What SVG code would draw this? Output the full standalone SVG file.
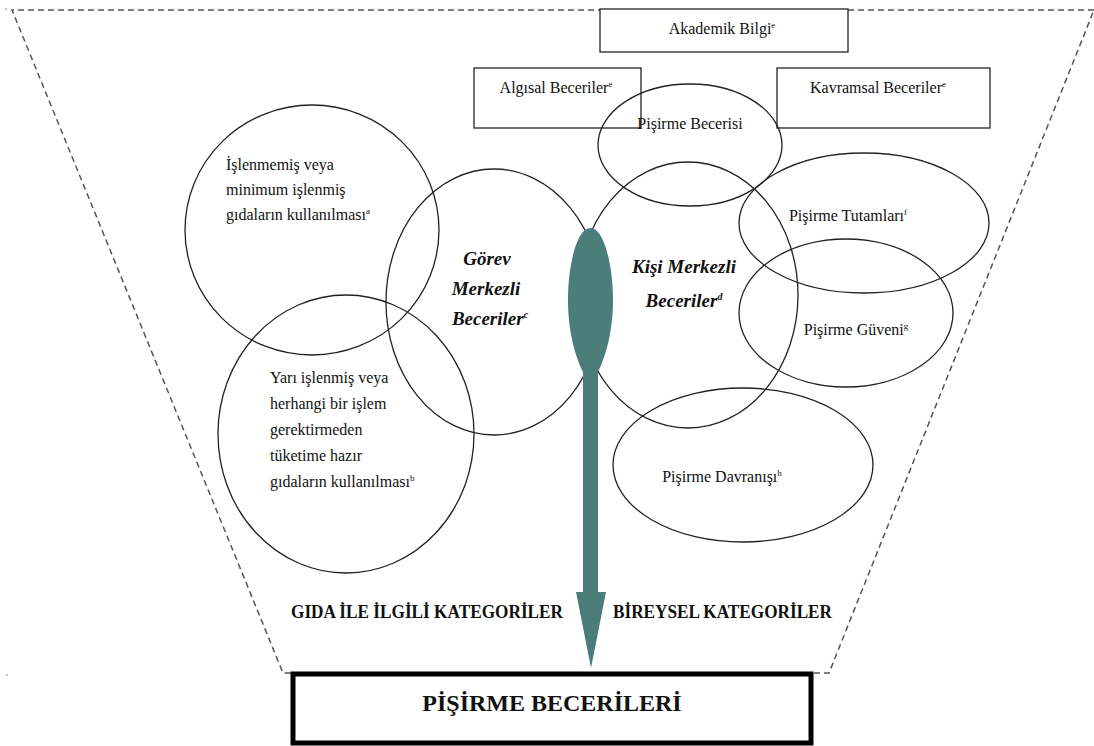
<svg xmlns="http://www.w3.org/2000/svg" width="1094" height="746" viewBox="0 0 1094 746">
<defs>
<style>
.dash{fill:none;stroke:#555;stroke-width:1.5;stroke-dasharray:6 4}
.ell{fill:none;stroke:#222;stroke-width:1.3}
.box{fill:#fff;stroke:#222;stroke-width:1.3}
text{font-family:'Liberation Serif','Times New Roman',serif;fill:#111}
.t{font-size:16px}
.s{font-size:9px}
.bi{font-size:19px;font-weight:bold;font-style:italic}
.cat{font-size:18px;font-weight:bold}
</style>
</defs>
<rect width="1094" height="746" fill="#fff"/>
<g id="frame">
<polyline class="dash" points="1094,10 12,10 283,673 292,673"/>
<polyline class="dash" points="814,673 829,673 1094,10"/>
<circle cx="6" cy="9" r="0.8" fill="#777"/>
<circle cx="7" cy="675" r="0.8" fill="#777"/>
</g>
<g id="akademik" font-family="Liberation Serif, serif"><rect class="box" x="600" y="9" width="248" height="43"/><text class="t" x="722" y="34" text-anchor="middle">Akademik Bilgi<tspan class="s" dy="-6">e</tspan></text></g>
<g id="algisal" font-family="Liberation Serif, serif"><rect class="box" x="474" y="68" width="167" height="60"/><text class="t" x="556" y="93" text-anchor="middle">Algısal Beceriler<tspan class="s" dy="-6">e</tspan></text></g>
<g id="kavramsal" font-family="Liberation Serif, serif"><rect class="box" x="777" y="68" width="213" height="60"/><text class="t" x="878" y="93" text-anchor="middle">Kavramsal Beceriler<tspan class="s" dy="-6">e</tspan></text></g>
<g id="pisirme-becerisi" font-family="Liberation Serif, serif"><ellipse class="ell" cx="690" cy="145" rx="92" ry="61"/><text class="t" x="690" y="129" text-anchor="middle">Pişirme Becerisi</text></g>
<g id="islenmemis" font-family="Liberation Serif, serif"><ellipse class="ell" cx="312" cy="230" rx="127" ry="125"/>
<text class="t" x="226" y="170">İşlenmemiş veya</text><text class="t" x="226" y="195">minimum işlenmiş</text><text class="t" x="226" y="220">gıdaların kullanılması<tspan class="s" dy="-6">a</tspan></text></g>
<g id="yari-islenmis" font-family="Liberation Serif, serif"><ellipse class="ell" cx="346" cy="434" rx="128" ry="139"/>
<text class="t" x="270" y="383">Yarı işlenmiş veya</text><text class="t" x="270" y="409">herhangi bir işlem</text><text class="t" x="270" y="435">gerektirmeden</text><text class="t" x="270" y="461">tüketime hazır</text><text class="t" x="270" y="487">gıdaların kullanılması<tspan class="s" dy="-6">b</tspan></text></g>
<g id="gorev"><ellipse class="ell" cx="494" cy="302" rx="108" ry="133"/>
<text class="bi" x="487" y="265" text-anchor="middle">Görev</text><text class="bi" x="486" y="295" text-anchor="middle">Merkezli</text><text class="bi" x="490" y="325" text-anchor="middle">Beceriler<tspan font-size="10" dy="-7">c</tspan></text></g>
<g id="kisi"><ellipse class="ell" cx="688" cy="295" rx="110" ry="133"/>
<text class="bi" x="684" y="273" text-anchor="middle">Kişi Merkezli</text><text class="bi" x="684" y="307" text-anchor="middle">Beceriler<tspan font-size="10" dy="-7">d</tspan></text></g>
<g id="tutamlari" font-family="Liberation Serif, serif"><ellipse class="ell" cx="864" cy="223" rx="125" ry="70"/><text class="t" x="848" y="221" text-anchor="middle">Pişirme Tutamları<tspan class="s" dy="-6">f</tspan></text></g>
<g id="guveni" font-family="Liberation Serif, serif"><ellipse class="ell" cx="846" cy="313" rx="107" ry="74"/><text class="t" x="856" y="335" text-anchor="middle">Pişirme Güveni<tspan class="s" dy="-6">g</tspan></text></g>
<g id="davranisi" font-family="Liberation Serif, serif"><ellipse class="ell" cx="743" cy="465" rx="130" ry="77"/><text class="t" x="722" y="482" text-anchor="middle">Pişirme Davranışı<tspan class="s" dy="-6">h</tspan></text></g>
<g id="connectors">
<path d="M590.5,228 C604,228 613,265 613,300 C613,335 604,360 598,372 L598,592 L606,592 L591,668 L576,592 L583,592 L583,372 C577,360 568,335 568,300 C568,265 577,228 590.5,228 Z" fill="#4B7E7B"/>
</g>
<g id="labels">
<text class="cat" x="563" y="618" text-anchor="end" textLength="272" lengthAdjust="spacingAndGlyphs">GIDA İLE İLGİLİ KATEGORİLER</text>
<text class="cat" x="613" y="618" textLength="219" lengthAdjust="spacingAndGlyphs">BİREYSEL KATEGORİLER</text>
</g>
<g id="pisirme-becerileri"><rect x="293" y="674" width="518" height="69" fill="#fff" stroke="#000" stroke-width="5"/><text x="552" y="711" text-anchor="middle" font-size="24" font-weight="bold">PİŞİRME BECERİLERİ</text></g>
</svg>
